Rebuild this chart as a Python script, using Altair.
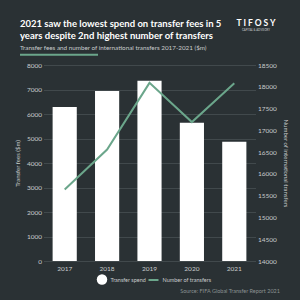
import altair as alt
import pandas as pd

years = ["2017", "2018", "2019", "2020", "2021"]
spend = [6290, 6940, 7360, 5640, 4870]
transfers = [15640, 16560, 18090, 17190, 18080]

BG = "#2a3134"
GREEN = "#6ba68b"
GRID = "#41494c"
LABEL = "#c9cccd"
FONT = "Lato"

df = pd.DataFrame({"year": years, "spend": spend, "transfers": transfers,
                   "s1": ["Transfer spend"] * 5, "s2": ["Number of transfers"] * 5})

x = alt.X("year:N", title=None, sort=years,
          scale=alt.Scale(paddingInner=0.43, paddingOuter=0.215),
          axis=alt.Axis(labelAngle=0, ticks=False, domain=False, labelColor=LABEL,
                        labelFont=FONT, labelFontSize=6.5, labelPadding=4))

bars = alt.Chart(df).mark_bar(color="white").encode(
    x=x,
    y=alt.Y("spend:Q", title="Transfer fees ($m)",
            scale=alt.Scale(domain=[0, 8000], nice=False),
            axis=alt.Axis(values=list(range(0, 8001, 1000)), format="d", grid=True, gridColor=GRID,
                          ticks=False, domain=False, labelColor=LABEL, labelFont=FONT,
                          labelFontSize=6.5, labelPadding=2, titleColor=LABEL,
                          titleFont=FONT, titleFontSize=6, titleFontWeight="normal",
                          titlePadding=6)),
    color=alt.Color("s1:N", scale=alt.Scale(range=["white"]),
                    legend=alt.Legend(title=None, orient="none", legendX=53, legendY=209,
                                      symbolType="circle", symbolSize=110,
                                      labelColor=LABEL, labelFont=FONT, labelFontSize=5.5,
                                      labelOffset=3, symbolStrokeWidth=0)),
)

line = alt.Chart(df).mark_line(strokeWidth=2).encode(
    x=x,
    y=alt.Y("transfers:Q", title="Number of international transfers",
            scale=alt.Scale(domain=[14000, 18500], nice=False),
            axis=alt.Axis(orient="right", values=list(range(14000, 18501, 500)), format="d", grid=False,
                          ticks=False, domain=False, labelColor=LABEL, labelFont=FONT,
                          labelFontSize=6.5, labelPadding=2, titleColor=LABEL,
                          titleFont=FONT, titleFontSize=6, titleFontWeight="normal",
                          titlePadding=6, titleAngle=90)),
    stroke=alt.Stroke("s2:N", scale=alt.Scale(range=[GREEN]),
                      legend=alt.Legend(title=None, orient="none", legendX=104, legendY=209,
                                        symbolType="stroke", symbolSize=100,
                                        symbolStrokeWidth=2, labelOffset=3,
                                        labelColor=LABEL, labelFont=FONT, labelFontSize=5.5)),
)

def txt(text, xv, yv, size, color="white", weight="normal", align="left"):
    return alt.Chart(pd.DataFrame({"t": [text]})).mark_text(
        align=align, baseline="alphabetic", fontSize=size, font=FONT,
        fontWeight=weight, color=color,
    ).encode(text="t:N", x=alt.value(xv), y=alt.value(yv))

ox, oy = 43.5, 65
anno = [
    txt("2021 saw the lowest spend on transfer fees in 5", 20 - ox, 27 - oy, 9.5, weight="bold"),
    txt("years despite 2nd highest number of transfers", 20 - ox, 39 - oy, 9.5, weight="bold"),
    txt("Transfer fees and number of international transfers 2017-2021 ($m)", 20 - ox, 50 - oy, 6.3, color=LABEL),
    txt("T I F O S Y", 256 - ox, 26 - oy, 8.5, weight="bold", align="center"),
    txt("CAPITAL & ADVISORY", 256 - ox, 31 - oy, 2.8, color=LABEL, align="center"),
    txt("Source: FIFA Global Transfer Report 2021", 280 - ox, 293 - oy, 5.5, color="#8a9193", align="right"),
]
underline = alt.Chart(pd.DataFrame({"a": [0]})).mark_rule(color=GREEN, strokeWidth=2).encode(
    x=alt.value(20 - ox), x2=alt.value(98 - ox), y=alt.value(54.7 - oy))

chart = alt.layer(bars, line, underline, *anno).resolve_scale(
    y="independent", color="independent"
).properties(
    width=212, height=196,
    autosize=alt.AutoSizeParams(type="none"),
    padding={"left": 43.5, "top": 65, "right": 44.5, "bottom": 39},
    background=BG,
).configure_view(stroke=None)

chart.save("out.html", embed_options={"renderer": "svg", "actions": False})
